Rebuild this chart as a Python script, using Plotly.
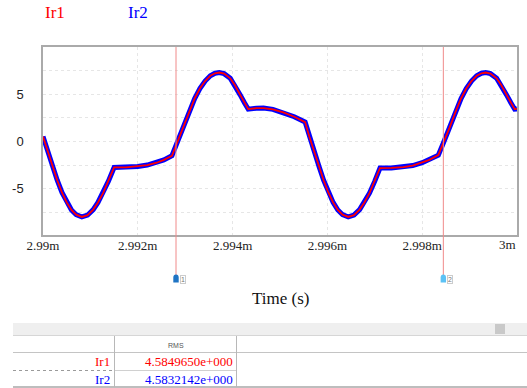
import plotly.graph_objects as go

# ---------------- data ----------------
T0 = 2.99e-3  # start of window (s)
time_us = [0.00, 0.10, 0.20, 0.30, 0.40, 0.50, 0.60, 0.70, 0.82, 0.94,
           1.06, 1.16, 1.27, 1.38, 1.50, 1.75, 2.00, 2.20, 2.40, 2.55,
           2.72, 2.82, 2.96, 3.10, 3.20, 3.31, 3.42, 3.53, 3.63, 3.72,
           3.82, 3.95, 4.05, 4.16, 4.25, 4.33, 4.50, 4.65, 4.85, 5.07,
           5.30, 5.53, 5.62, 5.72, 5.82, 5.92, 6.02, 6.12, 6.22, 6.32,
           6.44, 6.56, 6.68, 6.78, 6.89, 7.00, 7.11, 7.35, 7.60, 7.80,
           8.00, 8.15, 8.34, 8.44, 8.58, 8.72, 8.82, 8.93, 9.04, 9.15,
           9.25, 9.34, 9.44, 9.57, 9.67, 9.78, 9.87, 9.95, 10.00]
ir1 = [0.53, -1.10, -2.60, -4.10, -5.40, -6.45, -7.25, -7.75, -7.99, -7.80,
       -7.21, -6.45, -5.45, -4.20, -2.75, -2.74, -2.65, -2.50, -2.25, -1.95,
       -1.51, -0.25, 1.50, 3.35, 4.55, 5.60, 6.40, 6.95, 7.22, 7.30,
       7.18, 6.69, 5.95, 4.93, 4.10, 3.42, 3.52, 3.53, 3.40, 3.07,
       2.62, 2.05, 0.50, -1.10, -2.60, -4.10, -5.40, -6.45, -7.25, -7.75,
       -7.99, -7.80, -7.21, -6.45, -5.45, -4.20, -2.81, -2.80, -2.72, -2.55,
       -2.25, -1.95, -1.45, -0.25, 1.50, 3.35, 4.55, 5.60, 6.40, 6.95,
       7.22, 7.30, 7.18, 6.69, 5.95, 4.93, 4.10, 3.42, 3.45]
ir2 = [0.53, -1.10, -2.60, -4.10, -5.40, -6.45, -7.25, -7.75, -7.99, -7.80,
       -7.21, -6.45, -5.45, -4.20, -2.75, -2.74, -2.65, -2.50, -2.25, -1.95,
       -1.51, -0.25, 1.50, 3.35, 4.55, 5.60, 6.40, 6.95, 7.22, 7.30,
       7.18, 6.69, 5.95, 4.93, 4.10, 3.42, 3.52, 3.53, 3.40, 3.07,
       2.62, 2.05, 0.50, -1.10, -2.60, -4.10, -5.40, -6.45, -7.25, -7.75,
       -7.99, -7.80, -7.21, -6.45, -5.45, -4.20, -2.81, -2.80, -2.72, -2.55,
       -2.25, -1.95, -1.45, -0.25, 1.50, 3.35, 4.55, 5.60, 6.40, 6.95,
       7.22, 7.30, 7.18, 6.69, 5.95, 4.93, 4.10, 3.42, 3.45]
series_names = ["Ir1", "Ir2"]
series_colors = ["#ff0000", "#0000ff"]
rms_values = ["4.5849650e+000", "4.5832142e+000"]
x_tickvals = [0.00299, 0.002992, 0.002994, 0.002996, 0.002998, 0.003]
x_ticktext = ["2.99m", "2.992m", "2.994m", "2.996m", "2.998m", "3m"]
y_tickvals = [-5, 0, 5]
y_ticktext = ["-5", "0", "5"]
cursor_times = [2.992806e-3, 2.998446e-3]
cursor_labels = ["1", "2"]
cursor_colors = ["#1f74c4", "#5cc2f5"]

time_s = [T0 + t * 1e-6 for t in time_us]

# ---------------- geometry helpers ----------------
L, R, T, B = 43, 517, 47, 235
W, H = 527, 388


def pxx(x):
    return (x - L) / (R - L)


def pxy(y):
    return (B - y) / (B - T)


SERIF = "Liberation Serif, Times New Roman, serif"
SANS = "Liberation Sans, Arial, sans-serif"

fig = go.Figure()
fig.add_trace(go.Scatter(x=time_s, y=ir2, mode="lines", name=series_names[1],
                         line=dict(color=series_colors[1], width=5), hoverinfo="skip"))
fig.add_trace(go.Scatter(x=time_s, y=ir1, mode="lines", name=series_names[0],
                         line=dict(color=series_colors[0], width=1.8), hoverinfo="skip"))

shapes = []
annotations = []

# cursors
for ct, lab, col in zip(cursor_times, cursor_labels, cursor_colors):
    shapes.append(dict(type="line", xref="x", yref="paper", x0=ct, x1=ct,
                       y0=1, y1=pxy(276), line=dict(color="#f08a8a", width=1)))
    shapes.append(dict(type="path", xref="x", yref="paper",
                       xsizemode="pixel", ysizemode="pixel",
                       xanchor=ct, yanchor=pxy(278.5),
                       path="M -2.7,-4 L 2.7,-4 L 2.7,1 Q 2.7,4 0,4 Q -2.7,4 -2.7,1 Z",
                       fillcolor=col, line=dict(width=0)))
    annotations.append(dict(x=ct, xref="x", y=pxy(279), yref="paper",
                            xshift=7, text=lab, showarrow=False,
                            font=dict(family=SANS, size=7, color="#777"),
                            bgcolor="white", bordercolor="#cccccc", borderwidth=1,
                            borderpad=0, xanchor="center", yanchor="middle"))

# legend-like labels
annotations.append(dict(x=pxx(43), y=pxy(13), xref="paper", yref="paper", text=series_names[0],
                        showarrow=False, xanchor="left", yanchor="middle",
                        font=dict(family=SERIF, size=17, color=series_colors[0])))
annotations.append(dict(x=pxx(126), y=pxy(13), xref="paper", yref="paper", text=series_names[1],
                        showarrow=False, xanchor="left", yanchor="middle",
                        font=dict(family=SERIF, size=17, color=series_colors[1])))

# last x tick label is drawn pulled inside the plot edge (as in the original)
shown_ticktext = x_ticktext[:-1] + [""]
annotations.append(dict(x=pxx(507), y=pxy(245), xref="paper", yref="paper", text=x_ticktext[-1],
                        showarrow=False, xanchor="center", yanchor="middle",
                        font=dict(family=SERIF, size=13, color="#222")))

# axis title
annotations.append(dict(x=0.5, y=pxy(298), xref="paper", yref="paper", text="Time (s)",
                        showarrow=False, xanchor="center", yanchor="middle",
                        font=dict(family=SERIF, size=17, color="#111")))

# ---------------- table ----------------
def rect(x0, y0, x1, y1, fill, line=None):
    shapes.append(dict(type="rect", xref="paper", yref="paper",
                       x0=pxx(x0), x1=pxx(x1), y0=pxy(y0), y1=pxy(y1),
                       fillcolor=fill, line=line or dict(width=0), layer="above"))


def hline(x0, x1, y, color, width=1, dash="solid"):
    shapes.append(dict(type="line", xref="paper", yref="paper",
                       x0=pxx(x0), x1=pxx(x1), y0=pxy(y), y1=pxy(y),
                       line=dict(color=color, width=width, dash=dash)))


def vline(x, y0, y1, color, width=1):
    shapes.append(dict(type="line", xref="paper", yref="paper",
                       x0=pxx(x), x1=pxx(x), y0=pxy(y0), y1=pxy(y1),
                       line=dict(color=color, width=width)))


rect(13, 323, 527, 335, "#efefef")
rect(495, 324, 505, 334, "#c9c9c9")
hline(13, 527, 335.5, "#d6d6d6", 1)
hline(13, 527, 352.5, "#c4c4c4", 1.2)
hline(13, 114, 370.5, "#9a9a9a", 1, "dot")
hline(114, 237, 370.5, "#d0d0d0", 1)
hline(13, 527, 387, "#bdbdbd", 2)
vline(114.5, 336, 387, "#b8b8b8", 1)
vline(236.5, 336, 387, "#b8b8b8", 1)

annotations.append(dict(x=pxx(176), y=pxy(345), xref="paper", yref="paper", text="RMS",
                        showarrow=False, xanchor="center", yanchor="middle",
                        font=dict(family=SANS, size=7, color="#555")))
row_y = [361.5, 379]
for name, val, col, ry in zip(series_names, rms_values, series_colors, row_y):
    annotations.append(dict(x=pxx(112), y=pxy(ry), xref="paper", yref="paper", text=name,
                            showarrow=False, xanchor="right", yanchor="middle",
                            font=dict(family=SERIF, size=13, color=col)))
    annotations.append(dict(x=pxx(235), y=pxy(ry), xref="paper", yref="paper", text=val,
                            showarrow=False, xanchor="right", yanchor="middle",
                            font=dict(family=SERIF, size=13, color=col)))

fig.update_layout(
    width=W, height=H, autosize=False,
    margin=dict(l=L, r=W - R, t=T, b=H - B, pad=0),
    paper_bgcolor="white", plot_bgcolor="white",
    showlegend=False,
    shapes=shapes, annotations=annotations,
    xaxis=dict(range=[T0, 0.003], tickvals=x_tickvals, ticktext=shown_ticktext,
               tickfont=dict(family=SERIF, size=13, color="#222"),
               showgrid=True, gridcolor="#e6e6e6", griddash="dot", gridwidth=1,
               showline=True, mirror=True, linecolor="#aaaaaa", linewidth=1.5,
               zeroline=False, ticks="", ticklabelstandoff=-2, automargin=False),
    yaxis=dict(range=[-9.9, 10.0], tickvals=y_tickvals, ticktext=y_ticktext,
               tickfont=dict(family=SANS, size=13, color="#222"),
               showgrid=True, gridcolor="#e6e6e6", griddash="dot", gridwidth=1,
               minor=dict(tickvals=[-7.5, -2.5, 2.5, 7.5], showgrid=True,
                          gridcolor="#e6e6e6", griddash="dot", gridwidth=1),
               showline=True, mirror=True, linecolor="#aaaaaa", linewidth=1.5,
               zeroline=False, ticks="", ticklabelstandoff=15, automargin=False),
)

fig.write_html("out.html")
